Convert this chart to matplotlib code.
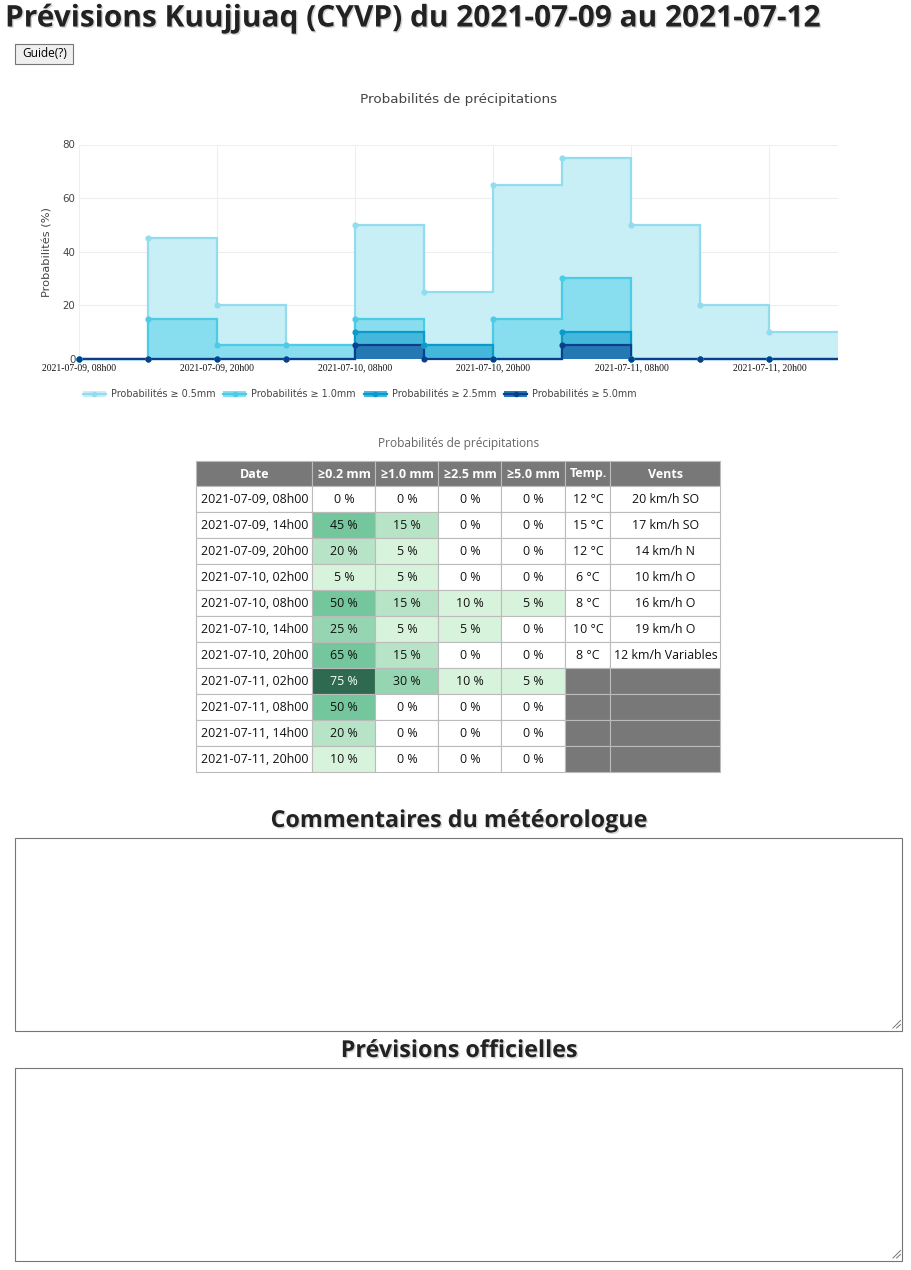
import matplotlib
matplotlib.use('Agg')
import matplotlib.pyplot as plt
import matplotlib.dates as mdates
import matplotlib.patheffects as pe
from matplotlib.patches import Rectangle
import pandas as pd

plt.rcParams['font.family'] = ['Open Sans', 'DejaVu Sans']

# --- data ---
times = ['2021-07-09 08:00', '2021-07-09 14:00', '2021-07-09 20:00', '2021-07-10 02:00',
         '2021-07-10 08:00', '2021-07-10 14:00', '2021-07-10 20:00', '2021-07-11 02:00',
         '2021-07-11 08:00', '2021-07-11 14:00', '2021-07-11 20:00']
period_end = '2021-07-12 02:00'
prob_05 = [0, 45, 20, 5, 50, 25, 65, 75, 50, 20, 10]
prob_10 = [0, 15, 5, 5, 15, 5, 15, 30, 0, 0, 0]
prob_25 = [0, 0, 0, 0, 10, 5, 0, 10, 0, 0, 0]
prob_50 = [0, 0, 0, 0, 5, 0, 0, 5, 0, 0, 0]
temps = [12, 15, 12, 6, 8, 10, 8, None, None, None, None]
winds = ['20 km/h SO', '17 km/h SO', '14 km/h N', '10 km/h O', '16 km/h O', '19 km/h O',
         '12 km/h Variables', None, None, None, None]
series_labels = ['Probabilités ≥ 0.5mm', 'Probabilités ≥ 1.0mm',
                 'Probabilités ≥ 2.5mm', 'Probabilités ≥ 5.0mm']
table_headers = ['Date', '≥0.2 mm', '≥1.0 mm', '≥2.5 mm', '≥5.0 mm', 'Temp.', 'Vents']
shade_limits = [0, 10, 20, 30, 65, 100]
shade_colors = ['white', '#d8f3dc', '#b7e4c7', '#95d5b2', '#74c69d', '#2d6a4f']

line_colors = ['#92dcee', '#4ccbe6', '#0a9acb', '#0b3f8b']
fill_colors = ['#c8eef6', '#88ddee', '#44b8da', '#2479b4']

W, H = 912, 1270
fig = plt.figure(figsize=(W / 100, H / 100), dpi=100)
page = fig.add_axes([0, 0, 1, 1])
page.set_xlim(0, W)
page.set_ylim(H, 0)
page.axis('off')

shadow = [pe.withSimplePatchShadow(offset=(1, -1), shadow_rgbFace='#aaaaaa', alpha=0.5)]

# page title and button
page.text(5, 18.5, 'Prévisions Kuujjuaq (CYVP) du 2021-07-09 au 2021-07-12', fontsize=21.5,
          fontweight='bold', color='#222222', va='center', ha='left', path_effects=shadow)
page.add_patch(Rectangle((15.5, 43.5), 58, 20, facecolor='#efefef', edgecolor='#767676', lw=0.8))
page.text(44.5, 53.5, 'Guide(?)', fontsize=8.6, color='black', ha='center', va='center')

# --- chart ---
edges = mdates.date2num(pd.to_datetime(times + [period_end]))
pts = edges[:-1]
left, right, top, bottom = 79.5, 838.5, 144.5, 358.7
cax = fig.add_axes([left / W, 1 - bottom / H, (right - left) / W, (bottom - top) / H])
series = [prob_05, prob_10, prob_25, prob_50]
for vals, fc in zip(series, fill_colors):
    cax.stairs(vals, edges, baseline=0, fill=True, color=fc, lw=0, zorder=2)
for vals, lc in zip(series, line_colors):
    cax.stairs(vals, edges, baseline=None, color=lc, lw=1.6, zorder=3, clip_on=False)
    cax.plot(pts, vals, 'o', color=lc, ms=3.4, zorder=4, clip_on=False)
cax.set_xlim(edges[0], edges[-1])
cax.set_ylim(0, 80)
cax.set_yticks([0, 20, 40, 60, 80])
cax.xaxis.set_major_locator(mdates.HourLocator(byhour=[8, 20]))
cax.xaxis.set_major_formatter(mdates.DateFormatter('%Y-%m-%d, %Hh%M'))
cax.grid(True, color='#eeeeee', lw=0.8, zorder=0)
cax.set_axisbelow(True)
for s in cax.spines.values():
    s.set_visible(False)
cax.tick_params(length=0)
cax.tick_params(axis='x', pad=3, labelsize=6.9, labelcolor='#111111')
cax.tick_params(axis='y', pad=3, labelsize=7.4, labelcolor='#444444')
for lab in cax.get_xticklabels():
    lab.set_fontfamily('Liberation Serif')
for lab in cax.get_yticklabels():
    lab.set_fontfamily('DejaVu Sans')
cax.set_ylabel('Probabilités (%)', fontsize=8.2, color='#444444', family='DejaVu Sans', labelpad=7)

page.text(459, 99.5, 'Probabilités de précipitations', fontsize=9.7, color='#444444',
          ha='center', va='center', family='DejaVu Sans')

# legend
for i, (lab, lc, fc) in enumerate(zip(series_labels, line_colors, fill_colors)):
    x0 = 83 + i * 140.5
    page.add_patch(Rectangle((x0, 391), 23, 6, facecolor=fc, edgecolor='none'))
    page.plot([x0, x0 + 23], [393.5, 393.5], color=lc, lw=1.6)
    page.plot([x0 + 11.5], [393.5], 'o', color=lc, ms=3)
    page.text(x0 + 28, 394, lab, fontsize=6.9, color='#444444', ha='left', va='center',
              family='DejaVu Sans')

# --- table ---
page.text(459, 443.5, 'Probabilités de précipitations', fontsize=8.6, color='#666666',
          ha='center', va='center')
col_x = [196.5, 312.5, 375.5, 438.5, 501.5, 565.5, 610.5, 720.5]
row_top, head_h, row_h = 461, 25, 26
for j, h in enumerate(table_headers):
    page.add_patch(Rectangle((col_x[j], row_top), col_x[j + 1] - col_x[j], head_h,
                             facecolor='#787878', edgecolor='#bbbbbb', lw=0.8))
    page.text((col_x[j] + col_x[j + 1]) / 2, row_top + head_h / 2 + 0.5, h, fontsize=9.0,
              fontweight='bold', color='white', ha='center', va='center')


def shade(v):
    for lim, c in zip(shade_limits, shade_colors):
        if v <= lim:
            return c
    return shade_colors[-1]


date_labels = pd.to_datetime(times).strftime('%Y-%m-%d, %Hh%M')
for i in range(len(times)):
    y0 = row_top + head_h + i * row_h
    probs = [prob_05[i], prob_10[i], prob_25[i], prob_50[i]]
    cells = [(date_labels[i], 'white', '#111111')]
    for v in probs:
        c = shade(v)
        cells.append((f'{v} %', c, 'white' if c == shade_colors[-1] else '#111111'))
    if temps[i] is None:
        cells.append(('', '#787878', 'white'))
        cells.append(('', '#787878', 'white'))
    else:
        cells.append((f'{temps[i]} °C', 'white', '#111111'))
        cells.append((winds[i], 'white', '#111111'))
    for j, (txt, bg, fg) in enumerate(cells):
        page.add_patch(Rectangle((col_x[j], y0), col_x[j + 1] - col_x[j], row_h,
                                 facecolor=bg, edgecolor='#bbbbbb', lw=0.8))
        page.text((col_x[j] + col_x[j + 1]) / 2, y0 + row_h / 2 + 0.5, txt, fontsize=8.9,
                  color=fg, ha='center', va='center')

# --- comment boxes ---
for title, ty, by in [('Commentaires du météorologue', 821, 837.5),
                      ('Prévisions officielles', 1051, 1067.5)]:
    page.text(459, ty, title, fontsize=16.8, fontweight='bold', color='#222222',
              ha='center', va='center', path_effects=shadow)
    page.add_patch(Rectangle((15.5, by), 887, 193, facecolor='white', edgecolor='#767676', lw=0.8))
    bx, bb = 902, by + 193
    page.plot([bx - 1.5, bx - 9], [bb - 10, bb - 2.5], color='#777777', lw=0.7)
    page.plot([bx - 1.5, bx - 5.5], [bb - 6, bb - 2.5], color='#777777', lw=0.7)

fig.savefig('out.png', dpi=100)
